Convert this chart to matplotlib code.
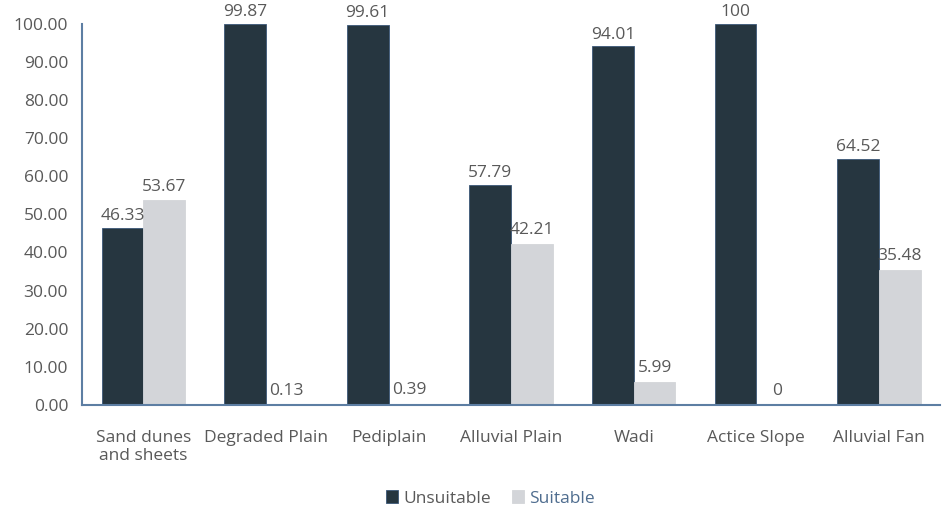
import numpy as np
import matplotlib.pyplot as plt

categories = ["Sand dunes\nand sheets", "Degraded Plain", "Pediplain",
              "Alluvial Plain", "Wadi", "Actice Slope", "Alluvial Fan"]
unsuitable = [46.33, 99.87, 99.61, 57.79, 94.01, 100, 64.52]
suitable = [53.67, 0.13, 0.39, 42.21, 5.99, 0, 35.48]
unsuitable_labels = ["46.33", "99.87", "99.61", "57.79", "94.01", "100", "64.52"]
suitable_labels = ["53.67", "0.13", "0.39", "42.21", "5.99", "0", "35.48"]
yticks = [0, 10, 20, 30, 40, 50, 60, 70, 80, 90, 100]

plt.rcParams['font.family'] = ['Open Sans', 'DejaVu Sans']
text_gray = "#595959"
dark = "#263640"
light = "#d3d5d9"
spine_col = "#5d7ea3"

fig = plt.figure(figsize=(9.43, 5.12), dpi=100)
ax = fig.add_axes([0.087, 0.209, 0.910, 0.745])

x = np.arange(len(categories))
w = 0.34
b1 = ax.bar(x - w / 2, unsuitable, w, color=dark, edgecolor="#3b5878", linewidth=0.6, label="Unsuitable")
b2 = ax.bar(x + w / 2, suitable, w, color=light, edgecolor=light, linewidth=0.6, label="Suitable")

for rect, lab in zip(b1, unsuitable_labels):
    ax.text(rect.get_x() + rect.get_width() / 2, rect.get_height() + 1.0, lab,
            ha="center", va="bottom", fontsize=12.5, color=text_gray)
for rect, lab in zip(b2, suitable_labels):
    ax.text(rect.get_x() + rect.get_width() / 2, rect.get_height() + 1.5, lab,
            ha="center", va="bottom", fontsize=12.5, color=text_gray)

ax.set_xlim(-0.5, len(categories) - 0.5)
ax.set_ylim(0, 100)
ax.set_yticks(yticks)
ax.set_yticklabels([f"{v:.2f}" for v in yticks])
ax.set_xticks(x)
ax.set_xticklabels(categories)
ax.tick_params(axis="both", length=0, labelsize=12.5, colors=text_gray)
ax.tick_params(axis="x", pad=18)
ax.tick_params(axis="y", pad=10)

for s in ["top", "right"]:
    ax.spines[s].set_visible(False)
for s in ["left", "bottom"]:
    ax.spines[s].set_color(spine_col)
    ax.spines[s].set_linewidth(1.5)

leg = fig.legend(handles=[b1, b2], labels=["Unsuitable", "Suitable"], loc="lower center",
                 bbox_to_anchor=(0.52, -0.02), ncol=2, frameon=False, fontsize=12.5,
                 handlelength=0.7, handleheight=0.7, handletextpad=0.3, columnspacing=1.2)
leg.get_texts()[0].set_color(text_gray)
leg.get_texts()[1].set_color("#4f6d8f")

fig.savefig("out.png", dpi=100)
